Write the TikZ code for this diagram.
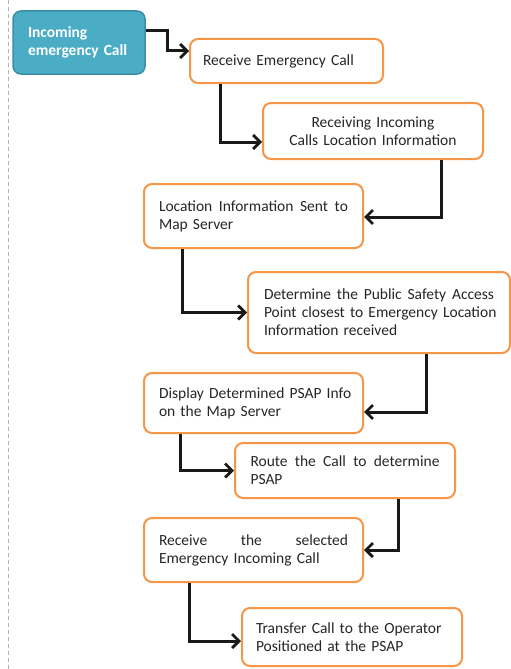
\documentclass[tikz,border=0pt]{standalone}
\usepackage{fontspec}
\setmainfont{Carlito}
\usetikzlibrary{arrows.meta}
\definecolor{boxorange}{HTML}{F79646}
\definecolor{startfill}{HTML}{4BACC6}
\definecolor{startline}{HTML}{3A8DA5}
\tikzset{
  stepbox/.style={draw=boxorange, line width=2pt, fill=white, rounded corners=8pt,
    inner sep=0pt, align=left, text=black!85,
    font=\fontsize{15.5}{18}\selectfont},
  startbox/.style={draw=startline, line width=1.5pt, fill=startfill, rounded corners=8pt,
    inner sep=0pt, align=left, text=white,
    font=\fontsize{15.5}{18}\selectfont\bfseries},
  conn/.style={line width=3pt, black!90, -{Straight Barb[length=7pt,width=14pt,line width=2.8pt]}},
  edge/.style={gray!60, line width=1pt, dash pattern=on 4pt off 3pt}
}
% a justified line: interword spaces stretch to fill the given width
\newcommand{\jline}[2]{\makebox[#1][s]{\spaceskip=0.3333em plus 1fil\relax #2}}
\begin{document}
\begin{tikzpicture}[x=1pt,y=-1pt]
\useasboundingbox (0,0) rectangle (511,669);
\draw[edge] (8.5,0) -- (8.5,669);

\node[startbox, minimum width=132pt, minimum height=63pt, text width=102pt] (b1) at (79,42.5)
  {Incoming\\emergency Call};
\node[stepbox, minimum width=193pt, minimum height=44pt, text width=167pt] (b2) at (286.5,61)
  {Receive Emergency Call};
\node[stepbox, minimum width=220pt, minimum height=56pt, text width=190pt, align=center] (b3) at (373,131)
  {Receiving Incoming\\Calls Location Information};
\node[stepbox, minimum width=219pt, minimum height=64pt, text width=189pt] (b4) at (253.5,216)
  {\jline{189pt}{Location Information Sent to}\\Map Server};
\node[stepbox, minimum width=262pt, minimum height=81pt, text width=230pt] (b5) at (379,312.5)
  {\jline{230pt}{Determine the Public Safety Access}\\\jline{230pt}{Point closest to Emergency Location}\\Information received};
\node[stepbox, minimum width=219pt, minimum height=60pt, text width=189pt] (b6) at (253.5,403)
  {\jline{189pt}{Display Determined PSAP Info}\\on the Map Server};
\node[stepbox, minimum width=220pt, minimum height=55pt, text width=189pt] (b7) at (345,470.5)
  {\jline{189pt}{Route the Call to determine}\\PSAP};
\node[stepbox, minimum width=219pt, minimum height=64pt, text width=189pt] (b8) at (253.5,550)
  {\jline{189pt}{Receive the selected}\\Emergency Incoming Call\\[4pt]};
\node[stepbox, minimum width=220pt, minimum height=58pt, text width=192pt] (b9) at (352,637)
  {Transfer Call to the Operator\\Positioned at the PSAP};

\draw[conn] ([yshift=11.5pt]b1.east) -- ++(22,0) |- ([yshift=10pt]b2.west);
\draw[conn] ([xshift=31pt]b2.south west) |- ([yshift=-11pt]b3.west);
\draw[conn] ([xshift=-43pt]b3.south east) |- ([yshift=-1pt]b4.east);
\draw[conn] ([xshift=39pt]b4.south west) |- (b5.west);
\draw[conn] ([xshift=-85pt]b5.south east) |- ([yshift=-9pt]b6.east);
\draw[conn] ([xshift=37pt]b6.south west) |- (b7.west);
\draw[conn] ([xshift=-58pt]b7.south east) |- (b8.east);
\draw[conn] ([xshift=46pt]b8.south west) |- ([yshift=-4pt]b9.west);
\end{tikzpicture}
\end{document}
